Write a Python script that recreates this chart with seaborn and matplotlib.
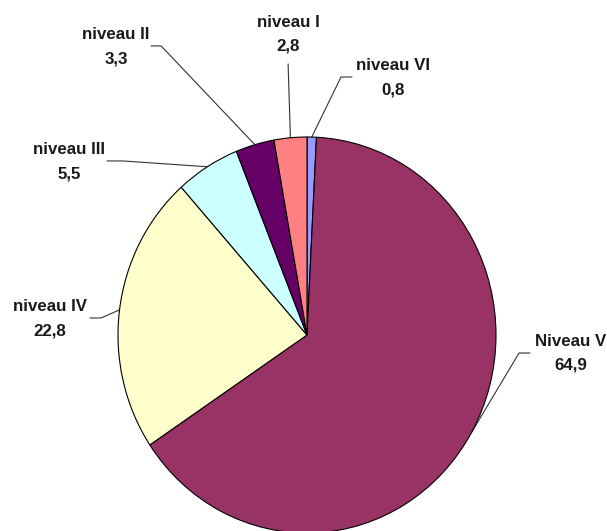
import matplotlib
matplotlib.use('Agg')
import matplotlib.pyplot as plt
import numpy as np
import seaborn as sns

# data, clockwise from the top
levels = ['niveau VI', 'Niveau V', 'niveau IV', 'niveau III', 'niveau II', 'niveau I']
values = [0.8, 64.9, 22.8, 5.5, 3.3, 2.8]
value_labels = ['0,8', '64,9', '22,8', '5,5', '3,3', '2,8']
slice_colors = ['#9999FF', '#993366', '#FFFFCC', '#CCFFFF', '#660066', '#FF8080']

# label block centre, leader start, leader elbow (pie radius = 1)
label_pos = {
    'niveau VI': ((0.455, 1.298), (0.238, 1.303), (0.180, 1.303)),
    'Niveau V': ((1.397, -0.093), (1.180, -0.091), (1.122, -0.091)),
    'niveau IV': ((-1.360, 0.081), (-1.148, 0.086), (-1.090, 0.086)),
    'niveau III': ((-1.259, 0.876), (-1.058, 0.879), (-0.974, 0.879)),
    'niveau II': ((-1.011, 1.457), (-0.825, 1.460), (-0.772, 1.460)),
    'niveau I': ((-0.100, 1.520), (-0.100, 1.369), (-0.100, 1.369)),
}

sns.set_theme(style='white')
plt.rcParams['font.family'] = ['Liberation Sans', 'DejaVu Sans']

fig = plt.figure(figsize=(6.07, 5.31), dpi=100)
ax = fig.add_axes([0, 0, 1, 1])

wedges, _ = ax.pie(values, colors=sns.color_palette(slice_colors), startangle=90,
                   counterclock=False,
                   wedgeprops=dict(edgecolor='black', linewidth=0.8))

for w, name, lab in zip(wedges, levels, value_labels):
    mid = np.deg2rad((w.theta1 + w.theta2) / 2)
    edge = (np.cos(mid), np.sin(mid))
    (tx, ty), start, elbow = label_pos[name]
    ax.plot([start[0], elbow[0], edge[0]], [start[1], elbow[1], edge[1]],
            color='#333333', lw=0.8, zorder=0)
    ax.text(tx, ty, f"{name}\n{lab}", ha='center', va='center', fontsize=12.2,
            fontweight='bold', color='#1a1a1a', linespacing=1.75)

ax.set_aspect('auto')
ax.set_xlim(-307 / 189, 300 / 189)
ax.set_ylim((335 - 531) / 198, 335 / 198)
ax.axis('off')

fig.savefig('out.png', dpi=100, facecolor='white')
